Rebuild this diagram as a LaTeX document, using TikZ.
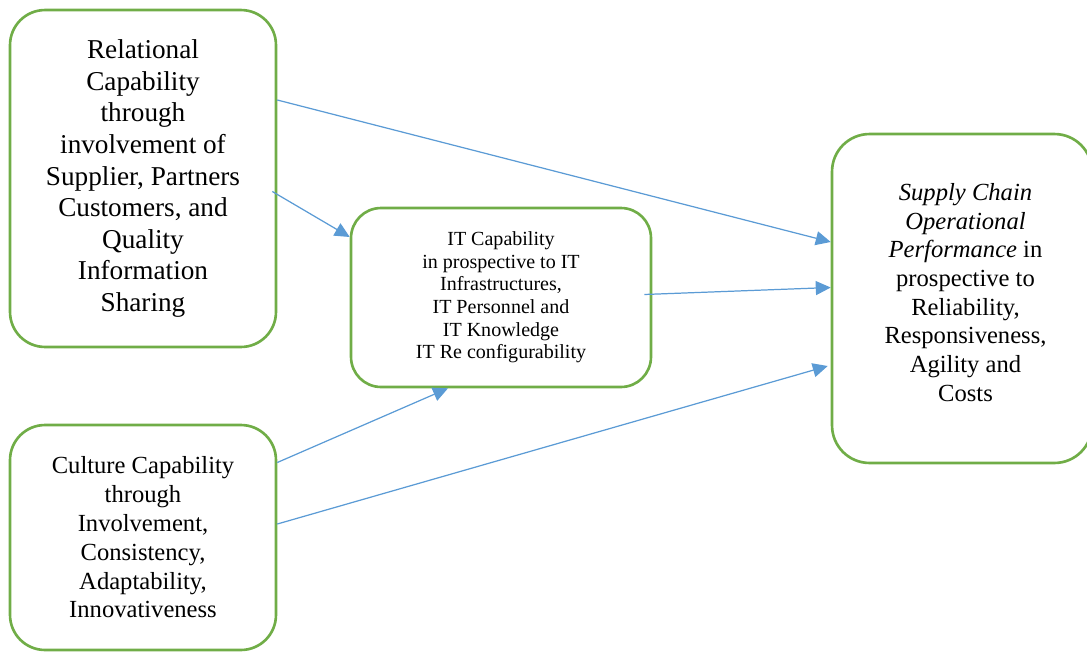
\documentclass[tikz,border=0pt]{standalone}
\usepackage{fontspec}
\setmainfont{Liberation Serif}
\usetikzlibrary{calc,arrows.meta}
\definecolor{boxgreen}{HTML}{70AD47}
\definecolor{linkblue}{HTML}{5B9BD5}
\begin{document}
\begin{tikzpicture}[x=0.02cm, y=-0.02cm,
  capbox/.style={draw=boxgreen, line width=1.5pt, rounded corners=0.7cm, align=center, inner sep=0pt},
  link/.style={draw=linkblue, line width=0.7pt, -{Triangle[length=8.5pt,width=8pt]}}]
\clip (0,0) rectangle (1087,652);
\node[capbox, minimum width=5.32cm, minimum height=6.74cm, font=\fontsize{15.5}{18}\selectfont] (rel) at (143,178.5){Relational\\Capability\\through\\involvement of\\Supplier, Partners\\Customers, and\\Quality\\Information\\Sharing};
\node[capbox, minimum width=6cm, minimum height=3.58cm, rounded corners=0.6cm, font=\fontsize{11.4}{12.9}\selectfont] (itcap) at (501,297.5){IT Capability\\in prospective to IT\\Infrastructures,\\IT Personnel and\\IT Knowledge\\IT Re configurability};
\node[capbox, minimum width=5.32cm, minimum height=4.5cm, font=\fontsize{14}{16.4}\selectfont] (cult) at (143,537.5){Culture Capability\\through\\Involvement,\\Consistency,\\Adaptability,\\Innovativeness};
\node[capbox, minimum width=5.2cm, minimum height=6.58cm, rounded corners=0.75cm] (scop) at (962,298.5){};
\node[align=center, inner sep=0pt, font=\fontsize{14}{16.3}\selectfont] (scoptext) at ($(scop.center)+(3.5,-6)$){\textit{Supply Chain}\\\textit{Operational}\\\textit{Performance} in\\prospective to\\Reliability,\\Responsiveness,\\Agility and\\Costs};
\draw[link] ($(rel.east)+(0,-78.5)$) -- ($(scop.west)+(0,-56.5)$);
\draw[link] ($(rel.east)+(-5,13)$) -- ($(itcap.west)+(0,-60.5)$);
\draw[link] ($(itcap.east)+(-8,-3)$) -- ($(scop.west)+(0,-11)$);
\draw[link] ($(cult.east)+(0,-75)$) -- ($(itcap.south)+(-53,0)$);
\draw[link] ($(cult.east)+(0,-13.5)$) -- ($(scop.west)+(-3,67.5)$);
\end{tikzpicture}
\end{document}
